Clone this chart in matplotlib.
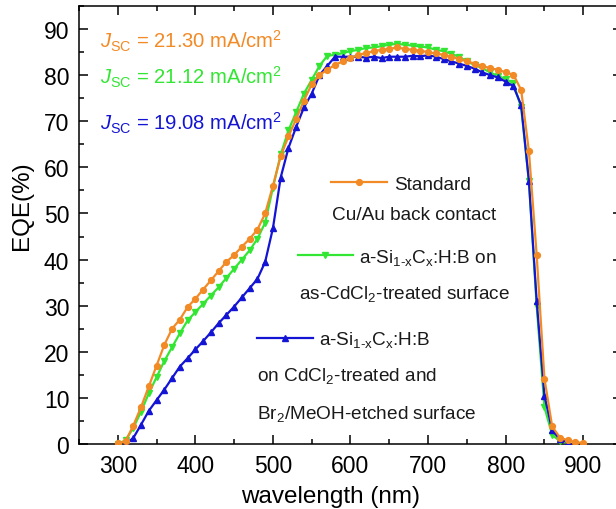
import numpy as np
import matplotlib
matplotlib.use("Agg")
import matplotlib.pyplot as plt
from matplotlib.ticker import MultipleLocator
from matplotlib.lines import Line2D

plt.rcParams['font.family'] = ['Liberation Sans', 'DejaVu Sans']
plt.rcParams['mathtext.fontset'] = 'custom'
plt.rcParams['mathtext.rm'] = 'Liberation Sans'
plt.rcParams['mathtext.it'] = 'Liberation Sans:italic'
plt.rcParams['mathtext.default'] = 'regular'

# ---- data ----
wl_std = [300, 310, 320, 330, 340, 350, 360, 370, 380, 390, 400, 410, 420, 430, 440,
          450, 460, 470, 480, 490, 500, 510, 520, 530, 540, 550, 560, 570, 580, 590,
          600, 610, 620, 630, 640, 650, 660, 670, 680, 690, 700, 710, 720, 730, 740,
          750, 760, 770, 780, 790, 800, 810, 820, 830, 840, 850, 860, 870, 880, 890, 900]
eqe_std = [0.2, 0.6, 4.0, 8.0, 12.5, 17.0, 21.5, 25.0, 27.0, 29.7, 31.5, 33.5, 35.5, 37.5, 39.5,
           41.0, 42.8, 44.5, 46.5, 50.0, 56.0, 62.4, 66.7, 70.5, 74.5, 78.0, 80.0, 81.2, 82.2, 83.0,
           83.7, 84.4, 84.8, 85.2, 85.5, 85.7, 86.0, 85.7, 85.5, 85.3, 85.0, 84.7, 84.4, 84.0, 83.5,
           83.0, 82.5, 82.0, 81.5, 81.2, 80.6, 80.1, 76.8, 63.5, 41.0, 14.2, 3.8, 1.4, 0.8, 0.4, 0.2]

wl_asc = [300, 310, 320, 330, 340, 350, 360, 370, 380, 390, 400, 410, 420, 430, 440,
          450, 460, 470, 480, 490, 500, 510, 520, 530, 540, 550, 560, 570, 580, 590,
          600, 610, 620, 630, 640, 650, 660, 670, 680, 690, 700, 710, 720, 730, 740,
          750, 760, 770, 780, 790, 800, 810, 820, 830, 840, 850, 860, 870, 880]
eqe_asc = [0.0, 0.8, 3.5, 7.0, 11.0, 14.5, 18.0, 21.0, 24.0, 26.8, 28.6, 30.4, 32.2, 34.0, 36.0,
           38.0, 40.0, 42.0, 44.5, 48.0, 55.6, 62.8, 68.0, 72.0, 76.0, 79.0, 82.0, 84.2, 84.4, 84.8,
           85.2, 85.5, 85.9, 86.0, 86.3, 86.6, 86.8, 86.6, 86.4, 86.2, 86.0, 85.5, 85.2, 84.6, 84.0,
           83.0, 82.2, 81.5, 80.6, 79.8, 79.2, 78.2, 73.0, 57.0, 30.0, 8.0, 2.0, 0.6, 0.2]

wl_etch = [310, 320, 330, 340, 350, 360, 370, 380, 390, 400, 410, 420, 430, 440,
           450, 460, 470, 480, 490, 500, 510, 520, 530, 540, 550, 560, 570, 580, 590,
           600, 610, 620, 630, 640, 650, 660, 670, 680, 690, 700, 710, 720, 730, 740,
           750, 760, 770, 780, 790, 800, 810, 820, 830, 840, 850, 860, 870, 880]
eqe_etch = [0.0, 1.3, 4.2, 7.2, 9.5, 11.8, 14.3, 16.8, 18.6, 20.5, 22.3, 24.2, 26.2, 28.0,
            29.8, 31.8, 33.8, 35.8, 39.5, 46.8, 57.8, 64.2, 68.8, 73.0, 76.0, 80.0, 82.0, 84.0, 84.0,
            84.0, 84.0, 83.8, 84.0, 83.7, 84.0, 84.0, 84.0, 84.2, 84.1, 84.3, 84.0, 83.5, 83.0, 82.5,
            82.0, 81.4, 80.6, 80.0, 79.5, 78.6, 77.6, 73.5, 57.0, 31.0, 10.5, 3.0, 1.0, 0.4]

c_std = '#F28A26'
c_asc = '#33E633'
c_etch = '#1414D4'

jsc_labels = [r'$\mathit{J}_{SC}$ = 21.30 mA/cm$^2$',
              r'$\mathit{J}_{SC}$ = 21.12 mA/cm$^2$',
              r'$\mathit{J}_{SC}$ = 19.08 mA/cm$^2$']

fig = plt.figure(figsize=(6.16, 5.10), dpi=100)
ax = fig.add_axes([79/616, 1-445/510, (622-79)/616, (445-7)/510])

ax.plot(wl_std, eqe_std, color=c_std, lw=1.6, marker='o', ms=4.2, zorder=4)
ax.plot(wl_asc, eqe_asc, color=c_asc, lw=1.6, marker='v', ms=4.2, zorder=3)
ax.plot(wl_etch, eqe_etch, color=c_etch, lw=1.6, marker='^', ms=4.2, zorder=3.5)

ax.set_xlim(250, 950)
ax.set_ylim(0, 95)
ax.xaxis.set_major_locator(MultipleLocator(100))
ax.xaxis.set_minor_locator(MultipleLocator(50))
ax.yaxis.set_major_locator(MultipleLocator(10))
ax.yaxis.set_minor_locator(MultipleLocator(5))
ax.tick_params(which='both', direction='in', top=True, right=True, width=1.1, labelsize=16.5)
ax.tick_params(which='major', length=6.5, pad=7)
ax.tick_params(which='minor', length=3.5)
for s in ax.spines.values():
    s.set_linewidth(1.1)

ax.set_xlabel('wavelength (nm)', fontsize=17.5)
ax.set_ylabel('EQE(%)', fontsize=17.5)
ax.xaxis.set_label_coords((330.5-79)/543, -0.093)
ax.yaxis.set_label_coords(-0.084, 0.546)

# Jsc annotations
for lab, c, yb in zip(jsc_labels, [c_std, c_asc, c_etch], [0.906, 0.822, 0.719]):
    ax.text(0.0387, yb, lab, color=c, fontsize=14.6, transform=ax.transAxes, va='baseline', ha='left')

# custom legend
def yf(py):
    return (445 - py) / 438

def xf(px):
    return (px - 79) / 543

def handle(x0, x1, y, c, m):
    ax.add_line(Line2D([xf(x0), xf(x1)], [yf(y), yf(y)], color=c, lw=1.6, transform=ax.transAxes))
    ax.add_line(Line2D([xf((x0 + x1) / 2)], [yf(y)], color=c, marker=m, ms=4.2, transform=ax.transAxes))

fs = 13.7
tc = '#1a1a1a'
handle(331, 387, 183, c_std, 'o')
ax.text(xf(394), yf(189.5), 'Standard', fontsize=fs, color=tc, transform=ax.transAxes, va='baseline')
ax.text(xf(332), yf(219.5), 'Cu/Au back contact', fontsize=fs, color=tc, transform=ax.transAxes, va='baseline')
handle(298, 353, 256, c_asc, 'v')
ax.text(xf(359), yf(262.5), r'a-Si$_{1\text{-}x}$C$_x$:H:B on', fontsize=fs, color=tc, transform=ax.transAxes, va='baseline')
ax.text(xf(299), yf(299.5), r'as-CdCl$_2$-treated surface', fontsize=fs, color=tc, transform=ax.transAxes, va='baseline')
handle(257, 313, 339, c_etch, '^')
ax.text(xf(319), yf(345.5), r'a-Si$_{1\text{-}x}$C$_x$:H:B', fontsize=fs, color=tc, transform=ax.transAxes, va='baseline')
ax.text(xf(257), yf(381.5), r'on CdCl$_2$-treated and', fontsize=fs, color=tc, transform=ax.transAxes, va='baseline')
ax.text(xf(257), yf(418.5), r'Br$_2$/MeOH-etched surface', fontsize=fs, color=tc, transform=ax.transAxes, va='baseline')

fig.savefig('out.png', dpi=100)
